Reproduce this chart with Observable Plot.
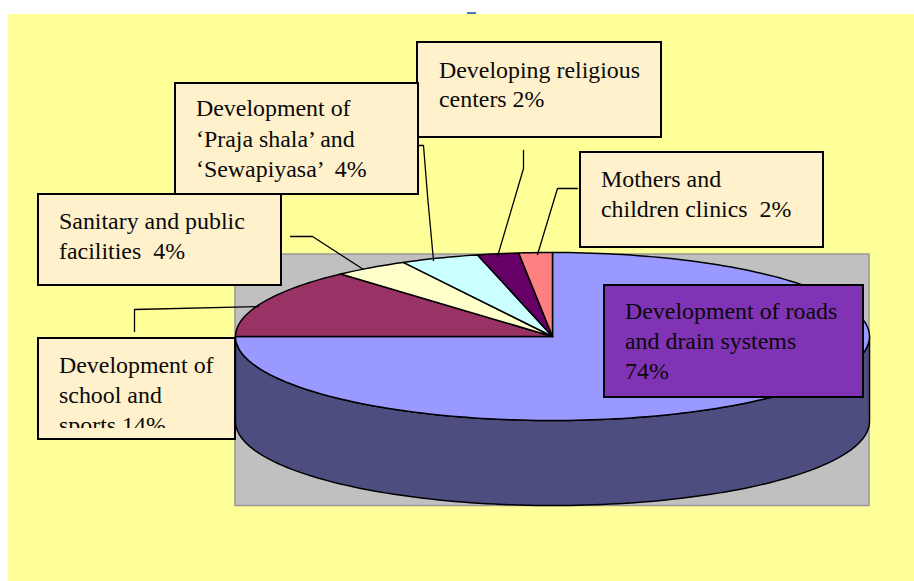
<!DOCTYPE html>
<html>
<head>
<meta charset="utf-8">
<script src="https://cdn.jsdelivr.net/npm/d3@7"></script>
<script src="https://cdn.jsdelivr.net/npm/@observablehq/plot@0.6"></script>
<style>
html,body{margin:0;padding:0;background:#fff;overflow:hidden}
svg{display:block}
</style>
</head>
<body>
<div id="chart"></div>
<script>
// Data: slice names, printed percentages, and slice shares as drawn in the picture
const categories = ["Development of roads and drain systems", "Development of school and sports", "Sanitary and public facilities", "Development of 'Praja shala' and 'Sewapiyasa'", "Developing religious centers", "Mothers and children clinics"];
const labelledPercent = [74, 14, 4, 4, 2, 2];
const drawnShare = [75, 13.35, 3.85, 4, 2.1, 1.7];
const sliceColors = ["#9999ff", "#993366", "#ffffcc", "#ccffff", "#660066", "#ff8080"];

// Label text, one entry per line
const labelLines = [
  ["Development of roads", "and drain systems", labelledPercent[0] + "%"],
  ["Development of", "school and", "sports " + labelledPercent[1] + "%"],
  ["Sanitary and public", "facilities  " + labelledPercent[2] + "%"],
  ["Development of", "\u2018Praja shala\u2019 and", "\u2018Sewapiyasa\u2019  " + labelledPercent[3] + "%"],
  ["Developing religious", "centers " + labelledPercent[4] + "%"],
  ["Mothers and", "children clinics  " + labelledPercent[5] + "%"]
];

// Layout (pixels on a 914x581 canvas)
const pie = {cx: 552, cy: 336, rx: 317, ry: 84, depth: 85};
const boxes = [
  {x1: 604, x2: 863, y1: 285, y2: 397, tx: 624.5, base: [318, 348, 378], fill: "#8033b5"},
  {x1: 38, x2: 235, y1: 338, y2: 439, tx: 58.5, base: [372, 402, 432], fill: "#fff1cc"},
  {x1: 417, x2: 661, y1: 42, y2: 137, tx: 438.5, base: [77, 106], fill: "#fff1cc"},
  {x1: 175, x2: 418, y1: 83, y2: 194, tx: 195.5, base: [115, 146, 176], fill: "#fff1cc"},
  {x1: 38, x2: 281, y1: 194, y2: 285, tx: 58.5, base: [228, 258], fill: "#fff1cc"},
  {x1: 580, x2: 823, y1: 152, y2: 247, tx: 600.5, base: [186, 216], fill: "#fff1cc"}
];
const boxToLabel = [0, 1, 4, 3, 2, 5];
const connectors = [
  [[134, 331], [134, 309], [258, 306]],
  [[290, 236], [312, 236], [363, 269]],
  [[418, 145], [423, 145], [427, 195], [433, 260]],
  [[523, 150], [523, 168], [497, 256]],
  [[577, 188], [557, 188], [537, 254]]
];

const px = a => pie.cx + pie.rx * Math.sin(a);
const py = a => pie.cy - pie.ry * Math.cos(a);

const arcs = d3.pie().sort(null).value(d => d)(drawnShare);
const slicePts = arcs.flatMap((arc, i) => {
  const n = Math.max(4, Math.ceil((arc.endAngle - arc.startAngle) * 40));
  const pts = [{x: pie.cx, y: pie.cy, name: categories[i]}];
  for (let k = 0; k <= n; k++) {
    const a = arc.startAngle + (arc.endAngle - arc.startAngle) * k / n;
    pts.push({x: px(a), y: py(a), name: categories[i]});
  }
  pts.push({x: pie.cx, y: pie.cy, name: categories[i]});
  return pts;
});

const sideAngles = d3.range(0, 121).map(k => Math.PI / 2 + Math.PI * k / 120);
const sidePts = [
  ...sideAngles.map(a => ({x: px(a), y: py(a)})),
  ...sideAngles.slice().reverse().map(a => ({x: px(a), y: py(a) + pie.depth})),
  {x: px(sideAngles[0]), y: py(sideAngles[0])}
];

const textRows = boxes.flatMap((b, i) =>
  labelLines[boxToLabel[i]].map((t, j) => ({t, x: b.tx, y: b.base[j]})));
const connectorPts = connectors.flatMap((c, i) => c.map(([x, y]) => ({x, y, i})));

const chart = Plot.plot({
  width: 914, height: 581,
  marginTop: 0, marginRight: 0, marginBottom: 0, marginLeft: 0,
  x: {domain: [0, 914], range: [0, 914], axis: null},
  y: {domain: [0, 581], range: [0, 581], axis: null},
  color: {domain: categories, range: sliceColors},
  style: {background: "#fff", fontFamily: "'Liberation Serif', serif"},
  marks: [
    Plot.rect([{x1: 8, x2: 914, y1: 14, y2: 581}], {x1: "x1", x2: "x2", y1: "y1", y2: "y2", fill: "#ffff99"}),
    Plot.rect([{x1: 467, x2: 476, y1: 12, y2: 14}], {x1: "x1", x2: "x2", y1: "y1", y2: "y2", fill: "#4f78b8"}),
    Plot.rect([{x1: 235, x2: 869, y1: 254, y2: 505.5}], {x1: "x1", x2: "x2", y1: "y1", y2: "y2", fill: "#c0c0c0", stroke: "#989898", strokeWidth: 1.5}),
    Plot.line(sidePts, {x: "x", y: "y", fill: "#4d4d80", stroke: "#000", strokeWidth: 1.5, curve: "linear"}),
    Plot.line(slicePts, {x: "x", y: "y", z: "name", fill: "name", stroke: "#000", strokeWidth: 1.5, curve: "linear"}),
    Plot.line(connectorPts, {x: "x", y: "y", z: "i", stroke: "#000", strokeWidth: 1.3, curve: "linear"}),
    Plot.rect(boxes, {x1: "x1", x2: "x2", y1: "y1", y2: "y2", fill: "fill", stroke: "#000", strokeWidth: 2}),
    Plot.text(textRows, {x: "x", y: "y", text: "t", textAnchor: "start", lineAnchor: "bottom", fontSize: 23.9, fill: "#0a0a0a"}),
    Plot.rect([{x1: 39, x2: 234, y1: 428, y2: 438}], {x1: "x1", x2: "x2", y1: "y1", y2: "y2", fill: "#fff1cc"})
  ]
});
document.getElementById("chart").appendChild(chart);
</script>
</body>
</html>
